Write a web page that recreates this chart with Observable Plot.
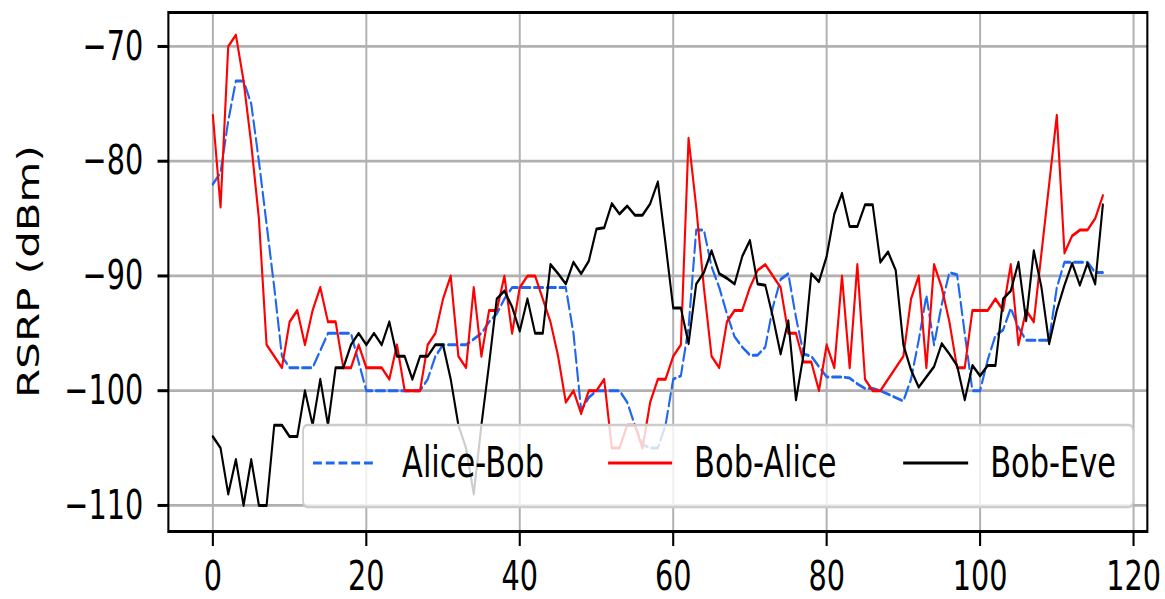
<!DOCTYPE html>
<html>
<head>
<meta charset="utf-8">
<script src="https://cdn.jsdelivr.net/npm/d3@7"></script>
<script src="https://cdn.jsdelivr.net/npm/@observablehq/plot@0.6"></script>
<style>
html, body { margin: 0; padding: 0; background: #fff; overflow: hidden; }
#chart { width: 1165px; height: 599px; overflow: hidden; }
</style>
</head>
<body>
<div id="chart"></div>
<script>
// ---- data ----
const seriesNames = ["Alice-Bob", "Bob-Alice", "Bob-Eve"];
const seriesColors = ["#1f66f0", "#ff0000", "#000000"];

const aliceBob = [
  -82, -81, -76.5, -73, -73, -75, -80, -85.5, -91, -97,
  -98, -98, -98, -98, -96.5, -95, -95, -95, -95, -97.5,
  -100, -100, -100, -100, -100, -100, -100, -100, -99, -97,
  -96, -96, -96, -96, -95.5, -95, -94, -93.3, -92, -91,
  -91, -91, -91, -91, -91, -91, -91, -95, -101.7, -100.6,
  -100, -100, -100, -100, -101, -103, -104.7, -105, -105, -103,
  -99, -98.7, -94.5, -86, -86, -89.2, -91, -93.3, -95.3, -96.2,
  -96.9, -96.9, -96.2, -92.7, -90.3, -89.8, -93.6, -96.8, -97, -97.9,
  -98.8, -98.8, -98.8, -98.9, -99.4, -99.8, -99.8, -100, -100.3, -100.6,
  -100.9, -99, -95.6, -91.7, -96, -92.5, -89.7, -89.9, -95, -100,
  -100, -97.3, -95.2, -94.7, -92.8, -94.5, -95.6, -95.6, -95.6, -95.6,
  -91, -88.8, -88.8, -88.8, -88.8, -89.7, -89.7
];

const bobAlice = [
  -76, -84, -70, -69, -73, -78.5, -85, -96, -97, -98,
  -94, -93, -96, -93, -91, -94, -94, -98, -98, -96,
  -98, -98, -98, -99, -96, -100, -100, -100, -96, -95,
  -92, -90, -97, -98, -91, -97, -93, -93, -90, -95,
  -91, -90, -90, -92, -94, -97, -101, -100, -102, -100,
  -100, -99, -105, -105, -103, -103, -105, -101, -99, -99,
  -97, -96, -78, -84, -91, -97, -98, -94, -93, -93,
  -91, -89.5, -89, -90, -91, -95, -95, -97.5, -97.5, -100,
  -96, -98, -90, -98, -89, -99, -100, -100, -99, -98,
  -97, -92, -90, -98, -89, -91, -94, -98, -98, -93,
  -93, -93, -92, -93, -89, -96, -93, -94, -88, -82,
  -76, -88, -86.5, -86, -86, -85, -83
];

const bobEve = [
  -104, -105, -109, -106, -110, -106, -110, -110, -103, -103,
  -104, -104, -100, -103, -99, -103, -98, -98, -96, -95,
  -96, -95, -96, -94, -97, -97, -99, -97, -97, -96,
  -96, -99, -103, -105, -109, -103, -97.7, -92, -91.3, -92.7,
  -94.8, -92, -95, -95, -89, -89.8, -90.7, -88.8, -89.8, -88.7,
  -85.9, -85.8, -83.7, -84.6, -83.9, -84.7, -84.7, -83.7, -81.8, -87.2,
  -92.8, -92.8, -95.9, -90.7, -89.7, -87.8, -89.8, -90.2, -90.7, -88.3,
  -86.9, -90.7, -90.8, -93.6, -96.8, -93.9, -100.8, -96.8, -89.8, -90.5,
  -88.3, -84.6, -82.8, -85.7, -85.7, -83.8, -83.8, -88.8, -87.9, -89.5,
  -96, -98.2, -99.7, -98.8, -97.9, -95.9, -96.8, -97.8, -100.8, -97.8,
  -98.7, -97.8, -97.8, -92, -91.3, -88.8, -93.9, -87.8, -91, -95.9,
  -93, -90.8, -88.9, -90.8, -88.9, -90.7, -83.8
];

const xTicks = [0, 20, 40, 60, 80, 100, 120];
const yTicks = [-110, -100, -90, -80, -70];
const yLabel = "RSRP (dBm)";

// ---- layout ----
// The reference image is squeezed horizontally; draw in a wider space and squeeze.
const S = 0.70;
const W = Math.round(1165 / S);
const H = 599;

const toRows = (vals, name) => vals.map((v, i) => ({series: name, i, v}));
const rowsAB = toRows(aliceBob, seriesNames[0]);
const rowsBA = toRows(bobAlice, seriesNames[1]);
const rowsBE = toRows(bobEve, seriesNames[2]);

const fmtY = d => (d < 0 ? "\u2212" : "") + Math.abs(d);

const plot = Plot.plot({
  width: W,
  height: H,
  marginLeft: 168 / S,
  marginRight: 18 / S,
  marginTop: 12,
  marginBottom: 68,
  style: {
    fontFamily: "DejaVu Sans",
    fontSize: "41px",
    background: "white",
    color: "black",
    overflow: "visible"
  },
  x: {domain: [-5.8, 121.8], ticks: xTicks, tickSize: 15, tickPadding: 14, label: null},
  y: {domain: [-112.27, -67.04], ticks: yTicks, tickSize: 15, tickPadding: 21, tickFormat: fmtY, label: null},
  marks: [
    Plot.ruleX(xTicks, {stroke: "#b0b0b0", strokeWidth: 2.8}),
    Plot.ruleY(yTicks, {stroke: "#b0b0b0", strokeWidth: 2.8}),
    Plot.line(rowsAB, {x: "i", y: "v", stroke: seriesColors[0], strokeWidth: 3, strokeDasharray: "12.6,5.6", strokeLinejoin: "round"}),
    Plot.line(rowsBA, {x: "i", y: "v", stroke: seriesColors[1], strokeWidth: 3, strokeLinejoin: "round"}),
    Plot.line(rowsBE, {x: "i", y: "v", stroke: seriesColors[2], strokeWidth: 3, strokeLinejoin: "round"}),
    Plot.frame({stroke: "black", strokeWidth: 3})
  ]
});

// thicker tick marks
plot.querySelectorAll('g[aria-label^="x-axis"], g[aria-label^="y-axis"]').forEach(g => {
  g.setAttribute("stroke-width", 3);
});

const svg = d3.select(plot);

// y-axis title
svg.append("text")
  .attr("transform", `translate(${39 / S},${(12 + 531) / 2}) rotate(-90)`)
  .attr("text-anchor", "middle")
  .attr("font-family", "DejaVu Sans")
  .attr("font-size", 42)
  .attr("fill", "black")
  .text(yLabel);

// legend (inside the plot area, bottom right)
const lg = svg.append("g").attr("aria-label", "legend").attr("text-anchor", "start");
lg.append("rect")
  .attr("x", 303 / S).attr("y", 425)
  .attr("width", (1133 - 303) / S).attr("height", 82)
  .attr("rx", 6).attr("ry", 6)
  .attr("fill", "white").attr("fill-opacity", 0.8)
  .attr("stroke", "#cccccc").attr("stroke-width", 2.5);

const legendItems = [
  {x1: 313, x2: 375, tx: 402, dash: "12.6,5.6"},
  {x1: 608, x2: 672, tx: 694, dash: null},
  {x1: 903, x2: 968, tx: 990, dash: null}
];
legendItems.forEach((it, k) => {
  lg.append("line")
    .attr("x1", it.x1 / S).attr("x2", it.x2 / S)
    .attr("y1", 463).attr("y2", 463)
    .attr("stroke", seriesColors[k]).attr("stroke-width", 3)
    .attr("stroke-dasharray", it.dash);
  lg.append("text")
    .attr("x", it.tx / S).attr("y", 477.5)
    .attr("text-anchor", "start")
    .attr("font-family", "DejaVu Sans")
    .attr("font-size", 43.5)
    .attr("fill", "black")
    .text(seriesNames[k]);
});

// squeeze horizontally to match the reference proportions
plot.setAttribute("viewBox", `0 0 ${W} ${H}`);
plot.setAttribute("width", 1165);
plot.setAttribute("height", 599);
plot.setAttribute("preserveAspectRatio", "none");
plot.style.width = "1165px";
plot.style.height = "599px";
plot.style.maxWidth = "none";
plot.style.display = "block";

document.getElementById("chart").appendChild(plot);
</script>
</body>
</html>
